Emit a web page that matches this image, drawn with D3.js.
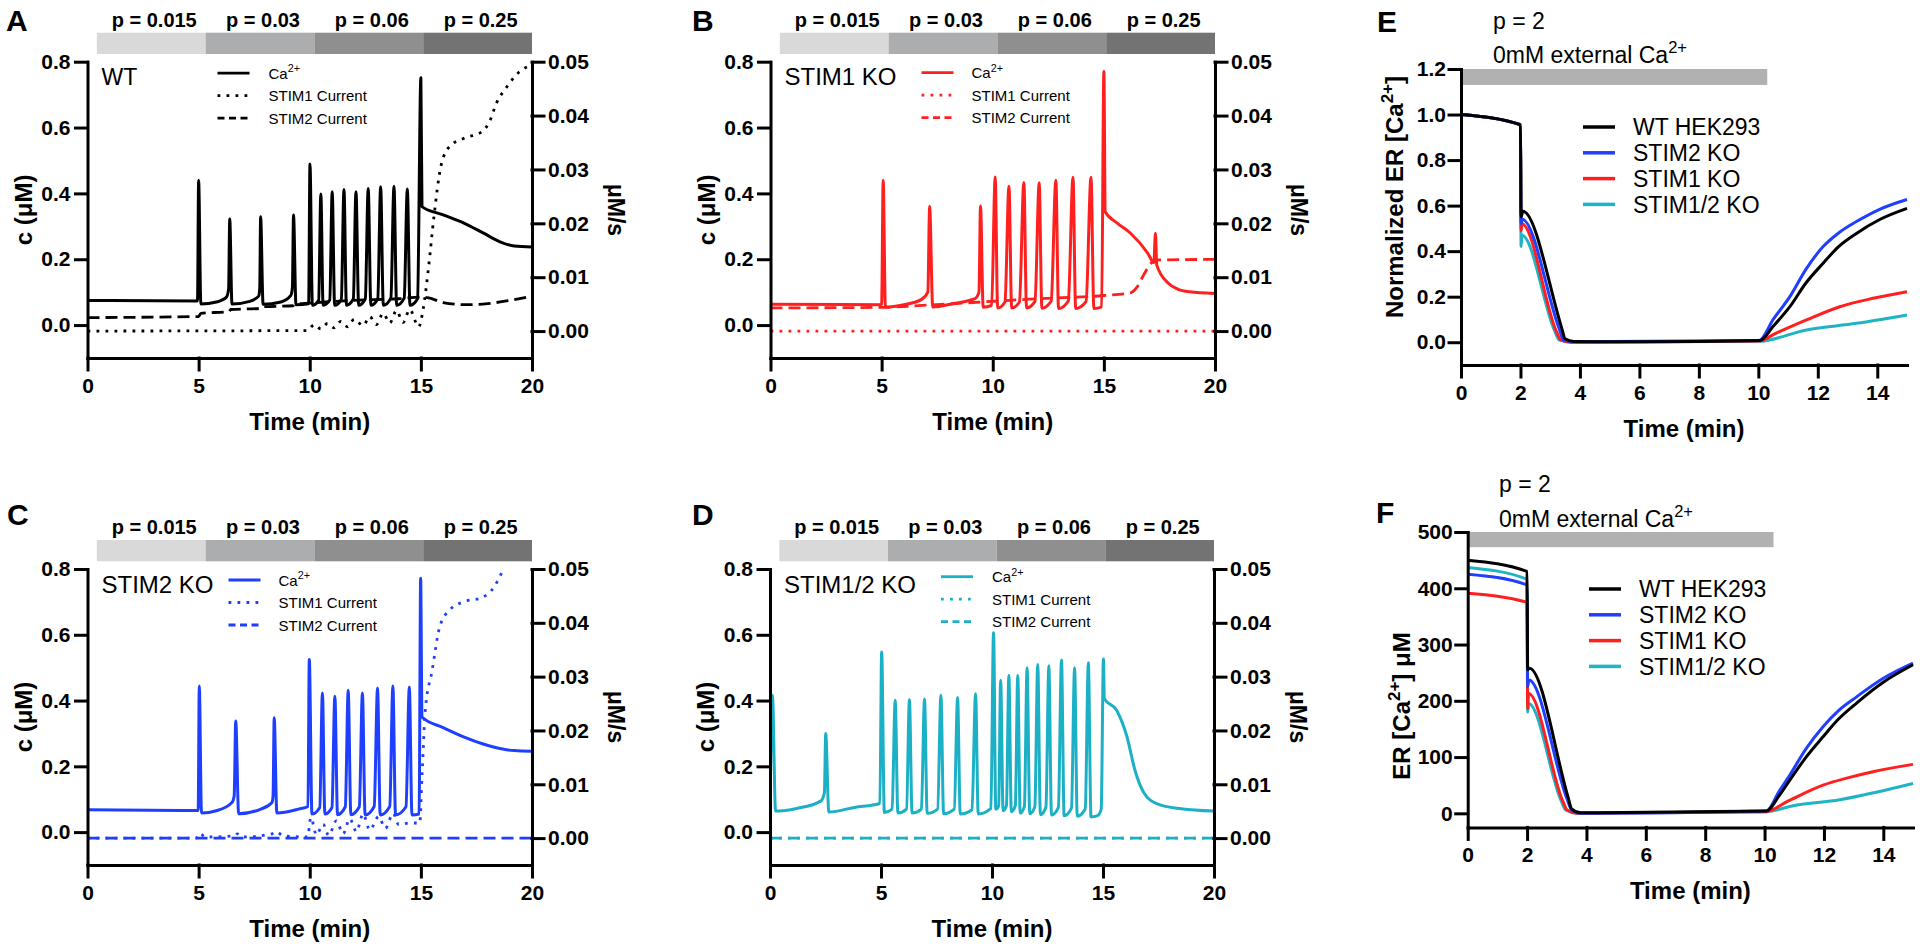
<!DOCTYPE html>
<html>
<head>
<meta charset="utf-8">
<script src="https://cdn.jsdelivr.net/npm/d3@7"></script>
<style>
  body { margin: 0; background: #fff; }
</style>
</head>
<body>
<svg id="fig" width="1920" height="950"></svg>
<script>
// ---------- data ----------
// stimulus levels shown in the grey bars above panels A-D
const pLabels = ['p = 0.015', 'p = 0.03', 'p = 0.06', 'p = 0.25']
const pColors = ['#d9d9d9', '#acadaf', '#8f8f8f', '#737373']
const barStart = 0.42 // min, bar begins just right of the y axis

// panel A - WT, [time (min), c (uM)]
const caA = [[0, 0.075], [4.95, 0.073], [5.0, 0.44], [5.1, 0.064], [5.8, 0.07], [6.25, 0.085], [6.35, 0.11], [6.4, 0.322], [6.5, 0.064],
  [7.3, 0.072], [7.7, 0.088], [7.75, 0.11], [7.79, 0.329], [7.9, 0.063], [8.7, 0.07], [9.15, 0.09], [9.22, 0.115], [9.27, 0.334], [9.38, 0.062],
  [9.95, 0.065], [10.01, 0.489], [10.12, 0.06], [10.4, 0.075], [10.5, 0.398], [10.6, 0.06], [10.9, 0.076], [11.01, 0.405], [11.12, 0.06],
  [11.42, 0.078], [11.54, 0.412], [11.65, 0.06], [11.96, 0.079], [12.08, 0.405], [12.2, 0.06], [12.5, 0.08], [12.63, 0.415], [12.75, 0.06],
  [13.06, 0.08], [13.19, 0.42], [13.31, 0.06], [13.65, 0.082], [13.79, 0.422], [13.91, 0.06], [14.25, 0.082], [14.39, 0.413], [14.51, 0.06],
  [14.85, 0.08], [15.0, 0.751], [15.05, 0.36], [16.0, 0.335], [16.94, 0.31], [17.8, 0.28], [18.56, 0.253], [19.2, 0.24], [20, 0.237]]
// [time, uM/s]
const stim1A = [[0, 0], [9.9, 0.0001], [10.2, 0.0012], [10.5, 0.0004], [10.8, 0.0014], [11.1, 0.0006], [11.4, 0.0018], [11.7, 0.0008],
  [12.0, 0.0022], [12.4, 0.001], [12.7, 0.0027], [13.0, 0.0012], [13.3, 0.0033], [13.6, 0.0015], [13.9, 0.0038], [14.2, 0.0016],
  [14.5, 0.004], [14.9, 0.0008], [15.1, 0.004], [15.35, 0.012], [15.59, 0.0213], [15.9, 0.0306], [16.3, 0.0343], [16.94, 0.0358],
  [17.75, 0.037], [18.1, 0.039], [18.4, 0.0423], [18.88, 0.0454], [19.4, 0.048], [20, 0.0494]]
const stim2A = [[0, 0.0025], [5.0, 0.0027], [5.1, 0.0033], [6.35, 0.0036], [6.45, 0.004], [7.75, 0.0042], [7.85, 0.0045], [9.25, 0.0047],
  [9.35, 0.005], [10, 0.0052], [12, 0.0057], [14, 0.006], [15.0, 0.0063], [15.3, 0.0062], [16.0, 0.0053], [17.0, 0.0049], [18.0, 0.0051],
  [19.0, 0.0057], [20, 0.0065]]

// panel B - STIM1 KO
const caB = [[0, 0.063], [5.0, 0.062], [5.07, 0.44], [5.17, 0.055], [6.0, 0.062], [6.8, 0.078], [7.08, 0.1], [7.16, 0.36], [7.3, 0.055],
  [8.2, 0.065], [9.2, 0.08], [9.38, 0.1], [9.45, 0.362], [9.57, 0.054], [9.95, 0.06], [10.11, 0.45], [10.22, 0.052], [10.55, 0.07],
  [10.73, 0.422], [10.85, 0.052], [11.2, 0.07], [11.4, 0.433], [11.52, 0.052], [11.9, 0.072], [12.09, 0.432], [12.21, 0.051],
  [12.63, 0.073], [12.84, 0.44], [12.96, 0.05], [13.4, 0.073], [13.61, 0.449], [13.73, 0.05], [14.2, 0.072], [14.42, 0.449], [14.55, 0.05],
  [14.9, 0.055], [15.0, 0.77], [15.06, 0.344], [15.6, 0.31], [16.2, 0.279], [16.98, 0.218], [17.25, 0.19], [17.32, 0.279], [17.38, 0.182],
  [17.9, 0.127], [18.3, 0.11], [18.84, 0.101], [20, 0.096]]
const stim1B = [[0, 0], [20, 0]]
const stim2B = [[0, 0.0043], [5, 0.0044], [7, 0.0048], [9.5, 0.0054], [12, 0.006], [15, 0.0066], [16.2, 0.0071], [16.5, 0.0082],
  [16.8, 0.0105], [17.1, 0.0125], [17.4, 0.0132], [20, 0.0133]]

// panel C - STIM2 KO
const caC = [[0, 0.068], [4.98, 0.066], [5.03, 0.444], [5.13, 0.058], [5.8, 0.065], [6.5, 0.09], [6.6, 0.11], [6.67, 0.338], [6.8, 0.056],
  [7.8, 0.07], [8.3, 0.09], [8.35, 0.11], [8.4, 0.348], [8.52, 0.058], [9.5, 0.07], [9.92, 0.078], [9.98, 0.525], [10.1, 0.055],
  [10.45, 0.075], [10.57, 0.423], [10.68, 0.055], [11.0, 0.075], [11.13, 0.413], [11.25, 0.053], [11.6, 0.077], [11.73, 0.431],
  [11.85, 0.053], [12.23, 0.077], [12.37, 0.423], [12.49, 0.052], [12.9, 0.078], [13.05, 0.438], [13.17, 0.052], [13.6, 0.078],
  [13.74, 0.444], [13.86, 0.052], [14.33, 0.077], [14.48, 0.441], [14.6, 0.052], [14.92, 0.055], [14.99, 0.772], [15.05, 0.35],
  [16.0, 0.318], [16.95, 0.289], [17.8, 0.268], [18.56, 0.254], [19.2, 0.248], [20, 0.246]]
const stim1C = [[0, 0], [4.9, 0], [5.05, 0.0009], [5.3, 0.0002], [6.6, 0.0004], [6.75, 0.0008], [7, 0.0002], [8.3, 0.0008], [8.5, 0.0012],
  [8.8, 0.0004], [9.9, 0.0002], [10.05, 0.0038], [10.3, 0.0006], [10.6, 0.0026], [10.85, 0.0005], [11.2, 0.0032], [11.5, 0.0008],
  [11.8, 0.0036], [12.1, 0.0012], [12.4, 0.0045], [12.7, 0.0015], [13.1, 0.004], [13.4, 0.0018], [13.75, 0.0046], [14.0, 0.0025],
  [14.5, 0.0028], [14.95, 0.0028], [15.05, 0.0114], [15.2, 0.0238], [15.5, 0.031], [15.85, 0.0393], [16.3, 0.0424], [17, 0.044],
  [17.7, 0.0446], [18.3, 0.0467], [18.7, 0.0499], [19.0, 0.053]]
const stim2C = [[0, 0], [20, 0]]

// panel D - STIM1/2 KO
const caD = [[0, 0.066], [0.11, 0.416], [0.25, 0.064], [1.2, 0.072], [2.3, 0.095], [2.45, 0.12], [2.51, 0.3], [2.65, 0.061], [3.8, 0.075],
  [4.95, 0.087], [5.03, 0.548], [5.15, 0.06], [5.5, 0.07], [5.64, 0.401], [5.76, 0.058], [6.15, 0.07], [6.28, 0.403], [6.4, 0.058],
  [6.82, 0.07], [6.96, 0.405], [7.08, 0.057], [7.55, 0.07], [7.7, 0.416], [7.82, 0.056], [8.3, 0.07], [8.45, 0.409], [8.57, 0.055],
  [9.1, 0.068], [9.26, 0.421], [9.38, 0.055], [9.95, 0.072], [10.07, 0.606], [10.17, 0.07], [10.3, 0.08], [10.39, 0.462], [10.5, 0.065],
  [10.65, 0.08], [10.76, 0.477], [10.87, 0.062], [11.05, 0.08], [11.16, 0.476], [11.27, 0.058], [11.46, 0.078], [11.58, 0.5], [11.7, 0.056],
  [11.93, 0.077], [12.06, 0.51], [12.18, 0.053], [12.43, 0.076], [12.56, 0.506], [12.68, 0.052], [12.99, 0.075], [13.13, 0.523],
  [13.25, 0.05], [13.58, 0.073], [13.72, 0.5], [13.84, 0.048], [14.2, 0.07], [14.34, 0.515], [14.46, 0.046], [14.75, 0.05], [14.92, 0.07],
  [15.02, 0.526], [15.06, 0.406], [15.62, 0.37], [16.08, 0.29], [16.44, 0.188], [16.82, 0.122], [17.44, 0.086], [18.52, 0.071], [20, 0.064]]
const stim1D = [[0, 0], [20, 0]]
const stim2D = [[0, 0], [20, 0]]

// panels E and F - ER store, p = 2, 0 mM external Ca2+
const erLines = ['WT HEK293', 'STIM2 KO', 'STIM1 KO', 'STIM1/2 KO']
const erColors = ['#000000', '#1f3fff', '#ff1f1f', '#1fb3c4']
const zeroCaEnd = 10.3 // min, end of the 0 mM bar

const normWT = [[0, 1.0], [2.0, 0.955], [2.02, 0.55], [2.08, 0.575], [3.39, 0.061], [3.5, 0.015], [3.8, 0.003], [6, 0.002], [10.05, 0.008],
  [10.5, 0.07], [11.06, 0.156], [11.6, 0.26], [12.18, 0.347], [12.7, 0.42], [13.3, 0.478], [14.1, 0.54], [15, 0.588]]
const normS2 = [[0, 1.0], [2.0, 0.955], [2.02, 0.52], [2.06, 0.54], [3.3, 0.06], [3.45, 0.01], [3.8, 0.002], [10.03, 0.008], [10.5, 0.1],
  [11.06, 0.2], [11.6, 0.32], [12.18, 0.42], [12.7, 0.48], [13.3, 0.53], [14.1, 0.585], [15, 0.627]]
const normS1 = [[0, 1.0], [2.0, 0.955], [2.02, 0.49], [2.05, 0.52], [3.2, 0.05], [3.35, 0.01], [3.7, 0.0], [10.0, 0.005], [10.6, 0.04],
  [11.62, 0.098], [12.74, 0.156], [13.86, 0.193], [15, 0.222]]
const normS12 = [[0, 1.0], [2.0, 0.955], [2.02, 0.42], [2.05, 0.47], [3.15, 0.05], [3.3, 0.01], [3.7, 0.0], [10.0, 0.004], [11.62, 0.054],
  [13.3, 0.083], [15, 0.12]]

const erWT = [[0, 450], [2.0, 430], [2.02, 255], [2.08, 258], [3.39, 27], [3.5, 8], [3.8, 1], [10.05, 4], [10.5, 32], [10.85, 59],
  [11.4, 100], [11.97, 136], [12.5, 168], [13.1, 196], [14.0, 233], [15, 264]]
const erS2 = [[0, 425], [2.0, 406], [2.02, 225], [2.06, 237], [3.35, 25], [3.5, 6], [3.8, 0], [10.05, 4], [10.5, 40], [10.85, 68],
  [11.4, 115], [11.97, 154], [12.5, 183], [13.1, 207], [14.0, 240], [15, 267]]
const erS1 = [[0, 391], [2.0, 375], [2.02, 186], [2.05, 213], [3.2, 22], [3.35, 6], [3.7, 0], [10.05, 3], [10.8, 22], [11.97, 50],
  [12.8, 63], [13.65, 74], [15, 87]]
const erS12 = [[0, 437], [2.0, 416], [2.02, 180], [2.05, 195], [3.15, 22], [3.3, 6], [3.7, 0], [10.05, 3], [11.0, 14], [12.53, 24],
  [13.8, 38], [15, 53]]

// ---------- drawing ----------
const FONT = "'Liberation Sans', Arial, Helvetica, sans-serif"
const svg = d3.select('#fig')
svg.append('rect').attr('width', 1920).attr('height', 950).attr('fill', '#fff')

function styleAxis (g, size) {
  g.attr('font-size', size)
    .attr('font-weight', 'bold')
    .attr('font-family', FONT)
  g.selectAll('path, line')
    .attr('stroke', '#000')
    .attr('stroke-width', 3)
    .attr('stroke-linecap', 'square')
  g.selectAll('text').attr('fill', '#000')
}

function addCa (text, size) {
  text.append('tspan').text('Ca')
  text.append('tspan')
    .attr('dy', -size * 0.42)
    .attr('font-size', size * 0.72)
    .text('2+')
}

const simPanels = [
  { id: 'A', left: 87.5, right: 532, top: 61.7, bottom: 358, letterX: 6, letterY: 31, name: 'WT', nameSize: 23,
    color: '#000000', ca: caA, s1: stim1A, s2: stim2A, legLine: 130, legText: 181, legTop: 11.5 },
  { id: 'B', left: 770.5, right: 1215, top: 61.7, bottom: 358, letterX: 692, letterY: 31, name: 'STIM1 KO', nameSize: 24,
    color: '#ff1f1f', ca: caB, s1: stim1B, s2: stim2B, legLine: 151, legText: 201, legTop: 11 },
  { id: 'C', left: 87.5, right: 532, top: 569, bottom: 865, letterX: 7, letterY: 525, name: 'STIM2 KO', nameSize: 24,
    color: '#1f3fff', ca: caC, s1: stim1C, s2: stim2C, legLine: 141, legText: 191, legTop: 11 },
  { id: 'D', left: 770, right: 1214, top: 569, bottom: 865, letterX: 692, letterY: 525, name: 'STIM1/2 KO', nameSize: 24,
    color: '#1cb0c6', ca: caD, s1: stim1D, s2: stim2D, legLine: 171, legText: 222, legTop: 7.7 }
]

function drawSimPanel (cfg) {
  const g = svg.append('g').attr('class', 'panel-' + cfg.id)
  const x = d3.scaleLinear().domain([0, 20]).range([cfg.left, cfg.right])
  const y = d3.scaleLinear().domain([-0.1, 0.8]).range([cfg.bottom, cfg.top])
  const yR = d3.scaleLinear().domain([-0.005, 0.05]).range([cfg.bottom, cfg.top])

  // stimulus bar
  const segW = (20 - barStart) / pLabels.length
  pLabels.forEach((p, i) => {
    const x0 = x(barStart + i * segW)
    const x1 = x(barStart + (i + 1) * segW)
    g.append('rect')
      .attr('x', x0).attr('y', cfg.top - 29)
      .attr('width', x1 - x0).attr('height', 21.3)
      .attr('fill', pColors[i])
    g.append('text')
      .attr('x', (x0 + x1) / 2 + 3).attr('y', cfg.top - 35)
      .attr('text-anchor', 'middle')
      .attr('font-family', FONT).attr('font-weight', 'bold').attr('font-size', 20)
      .text(p)
  })

  g.append('text')
    .attr('x', cfg.letterX).attr('y', cfg.letterY)
    .attr('font-family', FONT).attr('font-weight', 'bold').attr('font-size', 30)
    .text(cfg.id)

  // traces
  g.append('clipPath').attr('id', 'clip-' + cfg.id)
    .append('rect')
    .attr('x', cfg.left).attr('y', cfg.top)
    .attr('width', cfg.right - cfg.left).attr('height', cfg.bottom - cfg.top)

  const lineL = d3.line().x(d => x(d[0])).y(d => y(d[1])).curve(d3.curveMonotoneX)
  const lineR = d3.line().x(d => x(d[0])).y(d => yR(d[1])).curve(d3.curveMonotoneX)
  const traces = g.append('g').attr('clip-path', 'url(#clip-' + cfg.id + ')')

  traces.append('path').datum(cfg.s1)
    .attr('d', lineR).attr('fill', 'none')
    .attr('stroke', cfg.color).attr('stroke-width', 2.8)
    .attr('stroke-dasharray', '2.8,6.2')
  traces.append('path').datum(cfg.s2)
    .attr('d', lineR).attr('fill', 'none')
    .attr('stroke', cfg.color).attr('stroke-width', 2.8)
    .attr('stroke-dasharray', '12,6')
  traces.append('path').datum(cfg.ca)
    .attr('d', lineL).attr('fill', 'none')
    .attr('stroke', cfg.color).attr('stroke-width', 3)
    .attr('stroke-linejoin', 'round')

  // axes
  const gx = g.append('g')
    .attr('transform', 'translate(0,' + cfg.bottom + ')')
    .call(d3.axisBottom(x).tickValues([0, 5, 10, 15, 20]).tickSize(12).tickSizeOuter(0).tickPadding(8))
  styleAxis(gx, 21)

  const gy = g.append('g')
    .attr('transform', 'translate(' + cfg.left + ',0)')
    .call(d3.axisLeft(y).tickValues([0, 0.2, 0.4, 0.6, 0.8]).tickFormat(d3.format('.1f'))
      .tickSize(12).tickSizeOuter(0).tickPadding(5))
  styleAxis(gy, 21)

  const gr = g.append('g')
    .attr('transform', 'translate(' + cfg.right + ',0)')
    .call(d3.axisRight(yR).tickValues([0, 0.01, 0.02, 0.03, 0.04, 0.05]).tickFormat(d3.format('.2f'))
      .tickSize(12).tickSizeOuter(0).tickPadding(4))
  styleAxis(gr, 21)

  g.append('text')
    .attr('x', (cfg.left + cfg.right) / 2).attr('y', cfg.bottom + 72)
    .attr('text-anchor', 'middle')
    .attr('font-family', FONT).attr('font-weight', 'bold').attr('font-size', 24)
    .text('Time (min)')

  g.append('text')
    .attr('transform', 'translate(' + (cfg.left - 56) + ',' + (cfg.top + cfg.bottom) / 2 + ') rotate(-90)')
    .attr('text-anchor', 'middle')
    .attr('font-family', FONT).attr('font-weight', 'bold').attr('font-size', 24)
    .text('c (\u03bcM)')

  g.append('text')
    .attr('transform', 'translate(' + (cfg.right + 76) + ',' + (cfg.top + cfg.bottom) / 2 + ') rotate(90)')
    .attr('text-anchor', 'middle')
    .attr('font-family', FONT).attr('font-weight', 'bold').attr('font-size', 23)
    .text('\u03bcM/s')

  g.append('text')
    .attr('x', cfg.left + 14).attr('y', cfg.top + 23.5)
    .attr('font-family', FONT).attr('font-size', cfg.nameSize)
    .text(cfg.name)

  // legend
  const legend = g.append('g')
  const styles = [null, '2.8,6.2', '7,4.5']
  const labels = ['Ca', 'STIM1 Current', 'STIM2 Current']
  labels.forEach((lab, i) => {
    const cy = cfg.top + cfg.legTop + i * 22.5
    legend.append('line')
      .attr('x1', cfg.left + cfg.legLine).attr('x2', cfg.left + cfg.legLine + 32)
      .attr('y1', cy).attr('y2', cy)
      .attr('stroke', cfg.color).attr('stroke-width', 2.8)
      .attr('stroke-dasharray', styles[i])
    const t = legend.append('text')
      .attr('x', cfg.left + cfg.legText).attr('y', cy + 5.5)
      .attr('font-family', FONT).attr('font-size', 15)
    if (i === 0) addCa(t, 15)
    else t.text(lab)
  })
}

simPanels.forEach(drawSimPanel)

const erPanels = [
  { id: 'E', left: 1461, right: 1907, top: 69, bottom: 365, letterX: 1377, letterY: 32, yDomain: [-0.1, 1.2],
    yTicks: [0, 0.2, 0.4, 0.6, 0.8, 1.0, 1.2], yFormat: d3.format('.1f'), barTo: 1.13,
    series: [normWT, normS2, normS1, normS12], textX: 1493, pY: 29, extY: 63,
    legX: 1583, legY: 127, yLabelCenter: 197, yLabel: 'norm' },
  { id: 'F', left: 1467.7, right: 1913, top: 532, bottom: 827.4, letterX: 1376, letterY: 523, yDomain: [-25, 500],
    yTicks: [0, 100, 200, 300, 400, 500], yFormat: d3.format('d'), barTo: 473,
    series: [erWT, erS2, erS1, erS12], textX: 1499, pY: 492, extY: 527,
    legX: 1589, legY: 589, yLabelCenter: 706, yLabel: 'abs' }
]

function drawErPanel (cfg) {
  const g = svg.append('g').attr('class', 'panel-' + cfg.id)
  const x = d3.scaleLinear().domain([0, 15]).range([cfg.left, cfg.right])
  const y = d3.scaleLinear().domain(cfg.yDomain).range([cfg.bottom, cfg.top])

  g.append('text')
    .attr('x', cfg.letterX).attr('y', cfg.letterY)
    .attr('font-family', FONT).attr('font-weight', 'bold').attr('font-size', 30)
    .text(cfg.id)

  g.append('text')
    .attr('x', cfg.textX).attr('y', cfg.pY)
    .attr('font-family', FONT).attr('font-size', 23)
    .text('p = 2')
  const ext = g.append('text')
    .attr('x', cfg.textX).attr('y', cfg.extY)
    .attr('font-family', FONT).attr('font-size', 23)
  ext.append('tspan').text('0mM external ')
  addCa(ext, 23)

  const yTop = cfg.yDomain[1]
  g.append('rect')
    .attr('x', x(0)).attr('y', y(yTop))
    .attr('width', x(zeroCaEnd) - x(0)).attr('height', y(cfg.barTo) - y(yTop))
    .attr('fill', '#b1b1b1')

  const line = d3.line().x(d => x(d[0])).y(d => y(d[1])).curve(d3.curveMonotoneX)
  // draw back to front so WT sits on top
  for (let i = cfg.series.length - 1; i >= 0; i--) {
    g.append('path').datum(cfg.series[i])
      .attr('d', line).attr('fill', 'none')
      .attr('stroke', erColors[i]).attr('stroke-width', 3)
      .attr('stroke-linejoin', 'round')
  }

  const gx = g.append('g')
    .attr('transform', 'translate(0,' + cfg.bottom + ')')
    .call(d3.axisBottom(x).tickValues(d3.range(0, 15, 2)).tickSize(12).tickSizeOuter(0).tickPadding(8))
  styleAxis(gx, 21)
  const gy = g.append('g')
    .attr('transform', 'translate(' + cfg.left + ',0)')
    .call(d3.axisLeft(y).tickValues(cfg.yTicks).tickFormat(cfg.yFormat).tickSize(12).tickSizeOuter(0).tickPadding(3))
  styleAxis(gy, 21)

  g.append('text')
    .attr('x', (cfg.left + cfg.right) / 2).attr('y', cfg.bottom + 72)
    .attr('text-anchor', 'middle')
    .attr('font-family', FONT).attr('font-weight', 'bold').attr('font-size', 24)
    .text('Time (min)')

  const yl = g.append('text')
    .attr('transform', 'translate(' + (cfg.left - 58) + ',' + cfg.yLabelCenter + ') rotate(-90)')
    .attr('text-anchor', 'middle')
    .attr('font-family', FONT).attr('font-weight', 'bold').attr('font-size', 24)
  if (cfg.yLabel === 'norm') {
    yl.append('tspan').text('Normalized ER [Ca')
    yl.append('tspan').attr('dy', -10).attr('font-size', 17).text('2+')
    yl.append('tspan').attr('dy', 10).text(']')
  } else {
    yl.append('tspan').text('ER [Ca')
    yl.append('tspan').attr('dy', -10).attr('font-size', 17).text('2+')
    yl.append('tspan').attr('dy', 10).text('] \u03bcM')
  }

  erLines.forEach((name, i) => {
    const cy = cfg.legY + i * 25.8
    g.append('line')
      .attr('x1', cfg.legX).attr('x2', cfg.legX + 32)
      .attr('y1', cy).attr('y2', cy)
      .attr('stroke', erColors[i]).attr('stroke-width', 3.5)
    g.append('text')
      .attr('x', cfg.legX + 50).attr('y', cy + 8.3)
      .attr('font-family', FONT).attr('font-size', 23)
      .text(name)
  })
}

erPanels.forEach(drawErPanel)
</script>
</body>
</html>
